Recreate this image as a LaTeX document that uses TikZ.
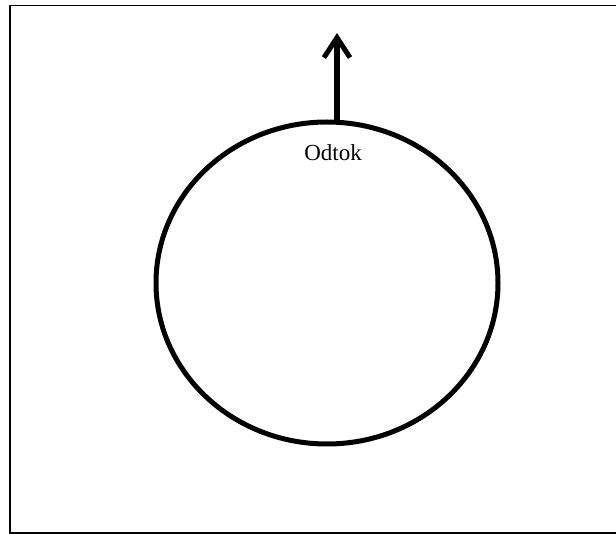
\documentclass[tikz,border=0pt]{standalone}
\usepackage{fontspec}
\setmainfont{Liberation Serif}
\usetikzlibrary{shapes.geometric, arrows.meta}
\tikzstyle{frame} = [
    draw=black,
    line width=1.5pt
]
\tikzstyle{tank} = [
    ellipse,
    minimum width=342pt,
    minimum height=322pt,
    inner sep=0pt,
    line width=5pt,
    draw=black
]
\tikzstyle{label} = [
    font=\fontsize{23}{27}\selectfont
]
\tikzstyle{arrow} = [line width=5.5pt,-{Straight Barb[length=20pt,width=26pt,line width=5pt]}]

\begin{document}
\begin{tikzpicture}[x=1pt,y=-1pt]

\useasboundingbox (0,0) rectangle (616,534);

\draw [frame] (10,5.5) rectangle (620,533);

\node (basin) [tank] at (327,283) {};

\node (odtok) [label] at (333,153) {Odtok};

\coordinate (outlet) at (337,122);
\coordinate (outend) at (337,33);

\draw [arrow] (outlet) -- (outend);

\end{tikzpicture}
\end{document}
